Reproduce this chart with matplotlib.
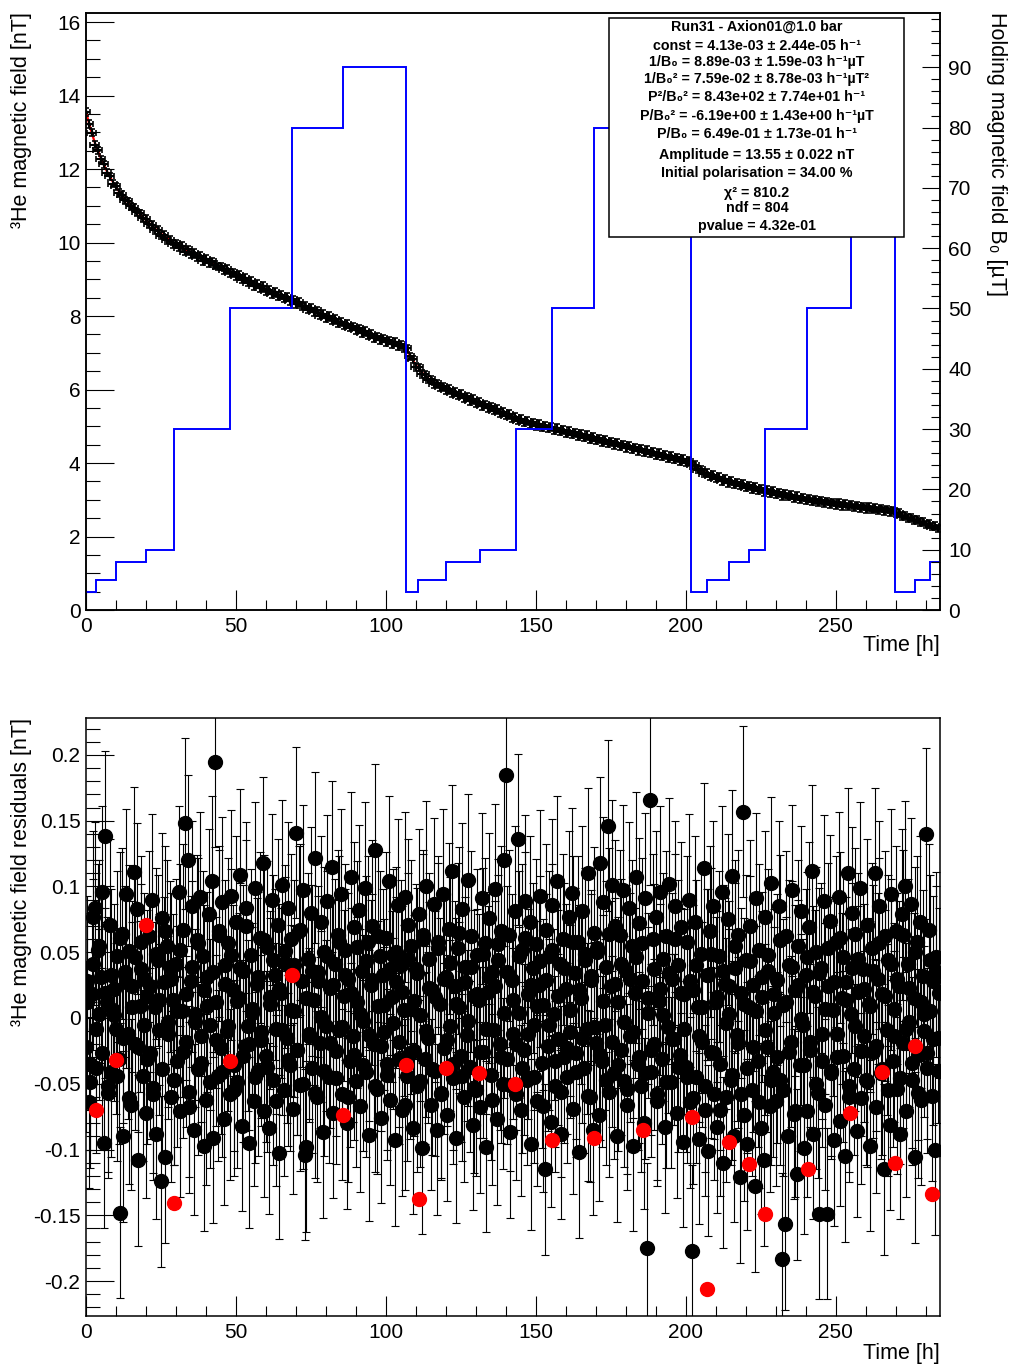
import numpy as np
import matplotlib
matplotlib.use('Agg')
import matplotlib.pyplot as plt
from matplotlib.ticker import MultipleLocator, FuncFormatter
from matplotlib.patches import Rectangle

plt.rcParams['font.family'] = ['Liberation Sans', 'DejaVu Sans']
plt.rcParams['axes.unicode_minus'] = False

# ---------------- data ----------------
meas_dt_h = 1.0      # sampling of plotted 3He field points
resid_dt_h = 0.5     # sampling of first residual series
resid2_t0_h = 0.25   # start of second (interleaved) residual series
resid2_dt_h = 1.0

# 3He magnetic field, in units of 0.01 nT, one point per hour from t=0
b_meas_cnT = [
    1355, 1322, 1299, 1266, 1251, 1226, 1213, 1190, 1180, 1160,
    1153, 1135, 1129, 1115, 1112, 1098, 1095, 1082, 1079, 1066,
    1064, 1049, 1048, 1033, 1034, 1019, 1020, 1006, 1008, 996,
    998, 986, 991, 975, 981, 968, 972, 960, 964, 950,
    956, 944, 949, 939, 934, 935, 925, 929, 917, 919,
    908, 912, 899, 903, 891, 895, 882, 887, 875, 882,
    867, 872, 859, 866, 854, 857, 848, 853, 841, 845,
    833, 839, 826, 828, 817, 823, 810, 815, 801, 806,
    795, 801, 788, 793, 781, 785, 775, 779, 768, 772,
    761, 766, 754, 759, 747, 752, 740, 745, 734, 739,
    729, 734, 723, 729, 718, 723, 712, 712, 690, 682,
    661, 660, 642, 641, 627, 628, 615, 617, 606, 609,
    598, 602, 590, 594, 583, 588, 576, 581, 569, 574,
    562, 567, 555, 560, 549, 554, 542, 547, 536, 540,
    529, 533, 522, 526, 515, 520, 510, 515, 505, 511,
    501, 507, 497, 502, 493, 499, 489, 495, 485, 491,
    481, 487, 477, 483, 473, 479, 469, 476, 465, 472,
    461, 467, 457, 463, 453, 459, 449, 455, 445, 451,
    441, 447, 437, 443, 433, 439, 429, 435, 425, 431,
    421, 427, 417, 423, 413, 419, 409, 415, 405, 411,
    401, 405, 394, 395, 382, 383, 371, 373, 364, 368,
    357, 362, 351, 356, 346, 351, 342, 347, 338, 343,
    333, 339, 329, 335, 325, 331, 321, 327, 318, 324,
    314, 320, 310, 316, 308, 313, 304, 310, 301, 306,
    298, 303, 295, 301, 292, 298, 290, 296, 288, 293,
    286, 291, 283, 289, 281, 287, 279, 285, 277, 282,
    275, 280, 273, 278, 271, 276, 269, 274, 267, 271,
    264, 264, 256, 257, 250, 251, 245, 246, 239, 240,
    233, 234, 227, 229, 222,
]
meas_err_nT = 0.10
meas_xerr_h = 1.5

# fitted curve nodes (time [h], field [nT])
fit_t = [0, 1, 2, 3.4, 5, 7, 10, 13, 16, 20, 24, 29.3, 35, 40, 48, 55, 60, 69,
         75, 80, 86, 93, 100, 106.7, 108, 110, 112, 115, 120, 131, 143, 150,
         160, 170, 185, 201.7, 203, 205, 208, 214, 221, 226, 234, 243, 255,
         265, 269.7, 272, 276, 280, 285]
fit_b = [13.55, 13.25, 12.96, 12.60, 12.29, 11.93, 11.50, 11.18, 10.93, 10.61,
         10.30, 9.98, 9.73, 9.52, 9.20, 8.91, 8.71, 8.41, 8.16, 7.98, 7.78,
         7.54, 7.33, 7.15, 6.92, 6.66, 6.46, 6.24, 6.02, 5.63, 5.22, 5.05,
         4.85, 4.65, 4.35, 4.02, 3.92, 3.80, 3.68, 3.50, 3.35, 3.25, 3.11,
         2.97, 2.83, 2.73, 2.67, 2.58, 2.47, 2.35, 2.23]

# holding field B0 [uT] steps
field_edges = [0, 3.4, 10.1, 20, 29.3, 48, 68.8, 85.7, 106.7, 110.8, 120, 131.2,
               143.3, 155.5, 169.5, 185.7, 201.8, 206.9, 214.3, 221, 226.4,
               240.5, 254.9, 265.3, 269.8, 276.3, 281.5, 285]
field_levels = [3, 5, 8, 10, 30, 50, 80, 90,
                3, 5, 8, 10, 30, 50, 80, 90,
                3, 5, 8, 10, 30, 50, 80, 90,
                3, 5, 8]

# residuals, units of 0.001 nT, one point every 0.5 h from t=0
resid_mnT = [
    -22, 28, -64, -49, 18, 77, 84, -38, 52, 3, 31, 96, -95, 138, 12, -57, 71, -41, 6, 22,
    -8, 47, -31, -148, 64, -90, 35, 94, -12, 51, -66, 24, 111, -20, 83, -108, 9, 58, -44, 30,
    -72, 17, 62, -27, 90, -53, 8, -88, 44, -9, -124, 76, 27, -106, 55, -3, 39, -60, 14, -47,
    41, -33, 96, -71, 5, 67, 148, -18, 120, -56, 28, 85, -85, 3, 59, -39, 92, -14, 47, -97,
    -62, 31, 79, -5, 104, -91, 195, 12, -44, 66, -23, 88, -77, 40, -10, 57, -58, 93, 21, -36,
    73, -49, 15, 109, -82, 36, -21, 84, -6, -95, 48, 7, -63, 99, 26, -40, 61, -17, 118, -71,
    -29, 54, -84, 11, 90, -47, 33, -8, 71, -103, 19, 101, -55, 42, -15, 84, -36, 60, -69, 5,
    141, -24, 66, -51, 28, 97, -104, -98, 45, -12, 80, -38, 14, 122, -60, 35, -19, 73, -87, 50,
    -6, 89, -45, 23, 115, -72, 41, -25, 63, -9, 94, -58, 17, 52, -80, 30, -33, 107, -14, 69,
    -48, 12, 82, -67, 36, -2, 99, -41, 58, -89, 25, 70, -20, 128, -54, 9, 47, -76, 33, -11,
    61, -35, 104, -62, 16, 48, -93, 27, 86, -18, 40, -70, 6, 92, -44, 71, -27, 55, -84, 13,
    37, -52, 79, 2, -99, 63, -31, 100, -15, 45, -66, 21, 87, -40, -85, 58, 11, -57, 94, -23,
    31, -74, 68, -6, 112, -46, 24, -91, 53, 8, -29, 83, -60, 39, -13, 105, -37, 62, -81, 17,
    -55, 48, 14, -68, 91, -26, 57, -98, 20, 76, -43, 35, -9, 98, -77, 44, -20, 66, -50, 120,
    185, -31, 63, -87, 29, -12, 81, -58, 136, 4, -70, 52, -24, 89, -47, 18, 73, -96, 38, -5,
    56, -63, 25, 93, -34, 10, -115, 67, -21, 47, -79, 86, 3, -52, 104, -16, 41, -88, 60, -30,
    22, -45, 77, -11, 95, -69, 34, -27, 58, -102, 15, 81, -38, 49, -8, 110, -60, 29, -85, 65,
    -19, 53, -74, 118, -33, 88, -5, 39, 146, -56, 24, 101, -42, 70, -90, 12, 63, -24, 97, -48,
    36, -66, 84, -14, 55, -97, 19, 107, -35, 72, -52, 28, -80, 91, -175, 4, 166, -41, 60, -20,
    77, -58, 13, 96, -31, 45, -83, 62, -7, 102, -49, 30, -16, 85, -72, 40, -28, 69, -94, 18,
    -37, 58, 90, -64, -177, 21, 73, -45, 8, -92, 49, -18, 114, -70, 33, -101, 66, -26, 85, -58,
    12, -83, 47, -35, 96, -110, 26, -60, 75, 3, -47, 108, -90, 38, -13, 63, -121, 19, 157, -74,
    44, -96, 8, 70, -55, 25, -128, 91, -33, 52, -84, 16, -108, 77, -22, 36, -67, 103, -41, 4,
    -63, 29, 85, -47, -183, 10, -157, 62, -90, 40, -18, 97, -73, 21, -119, 55, -36, 81, -5, -99,
    33, -71, 69, -24, 112, -88, 17, 50, -57, -149, 38, -12, 89, -66, -149, 24, 74, -40, 6, -93,
    58, -30, 92, -78, 15, 46, -105, 27, 110, -52, 3, 80, -39, 64, -86, 20, 99, -61, 37, -14,
    -47, 71, 11, -97, 53, -26, 110, -68, 30, 85, -42, 18, -115, 62, -9, 44, -81, 94, -33, 7,
    66, -54, 24, -88, 79, -19, 100, -71, 41, -3, 87, -47, 15, -106, 58, -28, 73, -62, 32, -10,
    140, -38, 67, 5, -59, 28, -100, 46, -15, 19,
]
# second, interleaved residual series (0.001 nT), one point per hour from t=0.25 h
resid2_mnT = [
    12, -35, 41, -8, 55, -27, 19, -52, 33, 2, -44, 61, -15, 27, -61, 8, 46, -22, 37, -5,
    -31, 24, -58, 49, 14, -39, 66, -12, 30, -47, 5, 52, -26, 18, -68, 39, -3, 57, -34, 21,
    9, -49, 35, -17, 63, -41, 26, -6, 48, -55, 13, 38, -29, 70, -20, 4, -45, 31, -11, 59,
    -37, 16, 44, -63, 22, -9, 51, -32, 6, 40, -24, 67, -50, 15, -14, 36, -57, 28, 1, -40,
    47, -19, 25, -46, 58, -7, 33, -60, 19, -28, 54, 3, -36, 43, -13, 29, -52, 62, -21, 10,
    -43, 37, -4, 50, -31, 20, -66, 45, 7, -25, 34, -48, 60, -10, 23, -39, 16, 53, -58, 30,
    -17, 42, -35, 11, 65, -44, 27, -2, 39, -53, 18, -26, 49, -8, 31, -62, 24, 56, -30, 4,
    35, -51, 14, -20, 47, -38, 61, -12, 25, -45, 9, 43, -67, 29, -5, 52, -33, 17, -56, 38,
    -23, 6, 58, -41, 21, -15, 44, -59, 32, -7, 50, -28, 13, -47, 64, -18, 26, -36, 41, -3,
    -54, 30, -11, 46, -30, 57, -42, 15, -24, 37, -63, 22, 2, -49, 34, -16, 60, -37, 19, -8,
    -45, 28, -61, 40, -14, 8, -52, 33, 49, -27, 16, -70, 36, -4, 24, -43, 55, -19, -58, 11,
    -38, 43, -22, 5, -64, 31, -9, 48, -47, 18, -30, 59, -55, 12, -26, 39, -71, 25, -1, -36,
    46, -18, 20, -50, 34, -33, 7, 53, -42, 27, -12, 61, -29, 14, -60, 38, -6, 45, -25, 22,
    -48, 9, 36, -21, 57, -39, 17, -55, 41, -14, 30, -46, 63, -8, 23, -34, 50, -57, 12, 3,
    -27, 44, -16, 35, -40,
]
resid_err_nT = 0.065

# residuals of the first point after each holding-field change
red_t = [3.3, 10, 20, 29.3, 48, 68.7, 85.7, 106.7, 111, 120, 131, 143, 155.3,
         169.3, 185.7, 202, 207, 214.3, 221, 226.3, 240.7, 254.7, 265.3, 269.7,
         276.3, 282]
red_r = [-0.070, -0.032, 0.071, -0.141, -0.033, 0.033, -0.074, -0.036, -0.138,
         -0.038, -0.042, -0.050, -0.093, -0.091, -0.085, -0.075, -0.206, -0.094,
         -0.111, -0.149, -0.115, -0.072, -0.041, -0.110, -0.021, -0.134]

stats_lines = [
    "Run31 - Axion01@1.0 bar",
    "const = 4.13e-03 ± 2.44e-05 h⁻¹",
    "1/B₀ = 8.89e-03 ± 1.59e-03 h⁻¹µT",
    "1/B₀² = 7.59e-02 ± 8.78e-03 h⁻¹µT²",
    "P²/B₀² = 8.43e+02 ± 7.74e+01 h⁻¹",
    "P/B₀² = -6.19e+00 ± 1.43e+00 h⁻¹µT",
    "P/B₀ = 6.49e-01 ± 1.73e-01 h⁻¹",
    "Amplitude = 13.55 ± 0.022 nT",
    "Initial polarisation = 34.00 %",
    "χ² = 810.2",
    "ndf = 804",
    "pvalue = 4.32e-01",
]
stats_y_px = [27, 46, 62, 79, 97, 116, 134, 155, 173, 193, 208, 226]

# ---------------- figure ----------------
W, H = 1009, 1365
fig = plt.figure(figsize=(W / 100, H / 100), dpi=100)

def fx(px):
    return px / W

def fy(py):
    return 1 - py / H

L, R = 86, 940
ax1 = fig.add_axes([fx(L), fy(610), fx(R) - fx(L), fy(13) - fy(610)])
ax3 = fig.add_axes([fx(L), fy(1316), fx(R) - fx(L), fy(718) - fy(1316)])

b_meas = np.array(b_meas_cnT) / 100.0
t_meas = np.arange(len(b_meas)) * meas_dt_h
resid = np.array(resid_mnT) / 1000.0
t_resid = np.arange(len(resid)) * resid_dt_h
resid2 = np.array(resid2_mnT) / 1000.0
t_resid2 = resid2_t0_h + np.arange(len(resid2)) * resid2_dt_h

# top panel
ax1.plot(fit_t, fit_b, color='red', lw=1.6, zorder=2)
ax1.errorbar(t_meas, b_meas, yerr=meas_err_nT, xerr=meas_xerr_h, fmt='.',
             ms=3.5, color='black', ecolor='black', elinewidth=1.5,
             capsize=2.0, capthick=1.2, zorder=3)
ax1.set_xlim(0, 284.7)
ax1.set_ylim(0, 16.245)

ax2 = ax1.twinx()
ax2.stairs(field_levels, field_edges, color='#0000ff', lw=1.4, baseline=None)
ax2.set_ylim(0, 99)

int_fmt = FuncFormatter(lambda v, p: '{:g}'.format(round(v, 6)))
for ax in (ax1, ax3):
    ax.xaxis.set_major_locator(MultipleLocator(50))
    ax.xaxis.set_minor_locator(MultipleLocator(10))
    ax.xaxis.set_major_formatter(int_fmt)
    ax.tick_params(axis='both', which='both', direction='in', labelsize=15,
                   top=False, right=False, width=0.8)
    ax.tick_params(axis='x', which='major', length=14.5, pad=5)
    ax.tick_params(axis='x', which='minor', length=7.2)
    ax.tick_params(axis='y', which='major', length=20, pad=4)
    ax.tick_params(axis='y', which='minor', length=10)
    for s in ax.spines.values():
        s.set_linewidth(1.1)

ax1.yaxis.set_major_locator(MultipleLocator(2))
ax1.yaxis.set_minor_locator(MultipleLocator(0.5))
ax1.yaxis.set_major_formatter(int_fmt)

ax2.yaxis.set_major_locator(MultipleLocator(10))
ax2.yaxis.set_minor_locator(MultipleLocator(2))
ax2.yaxis.set_major_formatter(int_fmt)
ax2.tick_params(axis='y', which='both', direction='in', labelsize=15,
                left=False, right=True, width=0.8)
ax2.tick_params(axis='y', which='major', length=13, pad=6)
ax2.tick_params(axis='y', which='minor', length=6.5)
for s in ax2.spines.values():
    s.set_linewidth(1.1)

# bottom panel
for tt, rr in ((t_resid, resid), (t_resid2, resid2)):
    ax3.errorbar(tt, rr, yerr=resid_err_nT, fmt='o', ms=10,
                 color='black', ecolor='black', elinewidth=0.8,
                 capsize=2.8, capthick=0.8, zorder=3)
ax3.plot(red_t, red_r, 'o', ms=10, color='red', zorder=4)
ax3.set_xlim(0, 284.7)
ax3.set_ylim(-0.2266, 0.2281)
ax3.yaxis.set_major_locator(MultipleLocator(0.05))
ax3.yaxis.set_minor_locator(MultipleLocator(0.01))
ax3.yaxis.set_major_formatter(int_fmt)

# axis titles
fs_title = 15.5
fig.text(fx(22), fy(12), '³He magnetic field [nT]', rotation=90,
         ha='center', va='top', fontsize=fs_title)
fig.text(fx(996), fy(12), 'Holding magnetic field B₀ [µT]', rotation=-90,
         ha='center', va='top', fontsize=fs_title)
fig.text(fx(R), fy(646), 'Time [h]', ha='right', va='center', fontsize=fs_title)
fig.text(fx(22), fy(718), '³He magnetic field residuals [nT]', rotation=90,
         ha='center', va='top', fontsize=fs_title)
fig.text(fx(R), fy(1353), 'Time [h]', ha='right', va='center', fontsize=fs_title)

# stats box
box = Rectangle((fx(609), fy(237)), fx(904) - fx(609), fy(18) - fy(237),
                transform=fig.transFigure, facecolor='white', edgecolor='black',
                lw=1.1, zorder=5)
fig.add_artist(box)
for line, ypx in zip(stats_lines, stats_y_px):
    fig.text(fx(757), fy(ypx), line, ha='center', va='center', fontsize=10.3,
             fontweight='bold', zorder=6)

fig.savefig('out.png', dpi=100)
